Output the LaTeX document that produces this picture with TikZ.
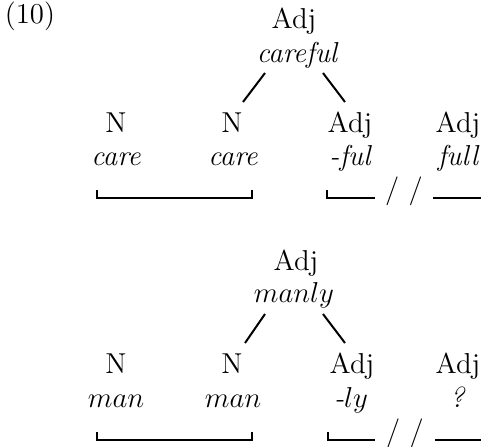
\documentclass[tikz,border=0pt,12pt]{standalone}
\usepackage{tikz}
\usetikzlibrary{positioning}
\tikzset{
  cat/.style={anchor=base, inner sep=0pt},
  word/.style={anchor=base, inner sep=0pt, font=\fontsize{14.4}{17}\selectfont\itshape},
  branch/.style={line width=1pt},
  bracket/.style={line width=0.9pt},
  cut/.style={anchor=base, inner sep=0pt}
}

\begin{document}
\begin{tikzpicture}[x=0.5pt, y=-0.5pt, font=\fontsize{14.4}{17}\selectfont]
  \useasboundingbox (0,0) rectangle (481,446);

  % Example number
  \node[cat] (exno) at (30,23) {(10)};

  % Upper tree: careful
  \node[cat] (adjA) at (294,28) {Adj};
  \node[word] (careful) at (297,62) {careful};
  \node[cat] (nA1) at (116,132) {N};
  \node[word] (care1) at (116,165) {care};
  \node[cat] (nA2) at (232,132) {N};
  \node[word] (care2) at (233,165) {care};
  \node[cat] (adjA1) at (350,132) {Adj};
  \node[word] (ful) at (350,165) {-ful};
  \node[cat] (adjA2) at (458,132) {Adj};
  \node[word] (full) at (458,165) {full};

  % Branches
  \coordinate (ulA) at (265,73);
  \coordinate (llA) at (243,102);
  \coordinate (urA) at (323,73);
  \coordinate (lrA) at (345,102);
  \draw[branch] (ulA) -- (llA);
  \draw[branch] (urA) -- (lrA);

  % Brackets
  \draw[bracket] (97,190) |- (252,198) -- (252,190);
  \draw[bracket] (327,190) |- (375,198);
  \node[cut] (cutA) at (404,198) {/ /};
  \draw[bracket] (433,198) -- (481,198);

  % Lower tree: manly
  \node[cat] (adjB) at (296,270) {Adj};
  \node[cat] (manly) at (294,302) {$manly$};
  \node[cat] (nB1) at (116,373) {N};
  \node[cat] (man1) at (116,407) {$man$};
  \node[cat] (nB2) at (232,373) {N};
  \node[cat] (man2) at (233,407) {$man$};
  \node[cat] (adjB1) at (352,373) {Adj};
  \node[cat] (ly) at (351,407) {\textit{-}$ly$};
  \node[cat] (adjB2) at (458,373) {Adj};
  \node[word] (qm) at (457,407) {?};

  % Branches
  \coordinate (ulB) at (265,314);
  \coordinate (llB) at (245,343);
  \coordinate (urB) at (323,314);
  \coordinate (lrB) at (345,343);
  \draw[branch] (ulB) -- (llB);
  \draw[branch] (urB) -- (lrB);

  % Brackets
  \draw[bracket] (97,432) |- (252,440) -- (252,432);
  \draw[bracket] (328,432) |- (375,440);
  \node[cut] (cutB) at (405,440) {/ /};
  \draw[bracket] (435,440) -- (481,440);
\end{tikzpicture}
\end{document}
